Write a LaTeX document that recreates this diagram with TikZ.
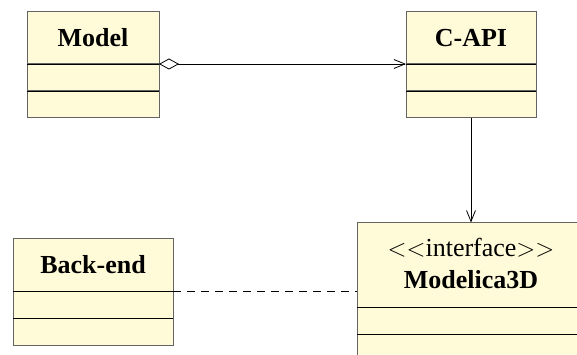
\documentclass[tikz,border=0pt]{standalone}
\usepackage{fontspec}
\setmainfont{Liberation Serif}
\usetikzlibrary{positioning,arrows.meta}
\definecolor{classfill}{RGB}{255,250,215}
\definecolor{classedge}{RGB}{100,100,100}
\begin{document}
\begin{tikzpicture}[x=1pt,y=-1pt]
    \tikzstyle{classhead} = [draw = classedge, fill = classfill, line width = 1pt, inner sep = 0pt, outer sep = 0pt, anchor = north west, text centered, font = \fontsize{26}{31}\selectfont\bfseries]
    \tikzstyle{classpart} = [classhead, minimum height = 27pt]
    \tikzstyle{aggr} = [line width = 0.8pt, {Diamond[open, length = 20pt, width = 11pt]}-{Straight Barb[length = 11pt, width = 9pt]}]
    \tikzstyle{assoc} = [line width = 0.8pt, -{Straight Barb[length = 11pt, width = 9pt]}]
    \tikzstyle{realize} = [line width = 0.8pt, dash pattern = on 8pt off 6pt]
    \useasboundingbox (0,0) rectangle (577,355);
    \clip (0,0) rectangle (577,355);

    % classes
    \node[classhead, minimum width = 132pt, minimum height = 52pt](model) at (27,12){Model};
    \node[classpart, below = 0pt of model, minimum width = 132pt](modelAttr){};
    \node[classpart, below = 0pt of modelAttr, minimum width = 132pt](modelOps){};

    \node[classhead, minimum width = 130pt, minimum height = 52pt](capi) at (406,12){C-API};
    \node[classpart, below = 0pt of capi, minimum width = 130pt](capiAttr){};
    \node[classpart, below = 0pt of capiAttr, minimum width = 130pt](capiOps){};

    \node[classhead, minimum width = 160pt, minimum height = 53pt](back) at (13,238){Back-end};
    \node[classpart, below = 0pt of back, minimum width = 160pt](backAttr){};
    \node[classpart, below = 0pt of backAttr, minimum width = 160pt](backOps){};

    \node[classhead, minimum width = 260pt, minimum height = 84.5pt](modelica) at (357,222.5){};
    \node[classpart, below = 0pt of modelica, minimum width = 260pt](modelicaAttr){};
    \node[classpart, below = 0pt of modelicaAttr, minimum width = 260pt](modelicaOps){};
    \node[anchor = base, font = \fontsize{26}{31}\selectfont](stereo) at (471,256.5){$<<$interface$>>$};
    \node[anchor = base, font = \fontsize{26}{31}\selectfont\bfseries](modelicaName) at (471,288){Modelica3D};

    % black dividers
    \foreach \part in {modelAttr, modelOps, capiAttr, capiOps, backAttr, backOps, modelicaAttr, modelicaOps}
        \draw[line width = 0.8pt](\part.north west)--(\part.north east);

    \draw[aggr](modelAttr.north east)--(capiAttr.north west);
    \draw[assoc](capiOps.south)--(capiOps.south |- modelica.north);
    \draw[realize](backAttr.north east)--(backAttr.north east -| modelica.west);
\end{tikzpicture}
\end{document}
